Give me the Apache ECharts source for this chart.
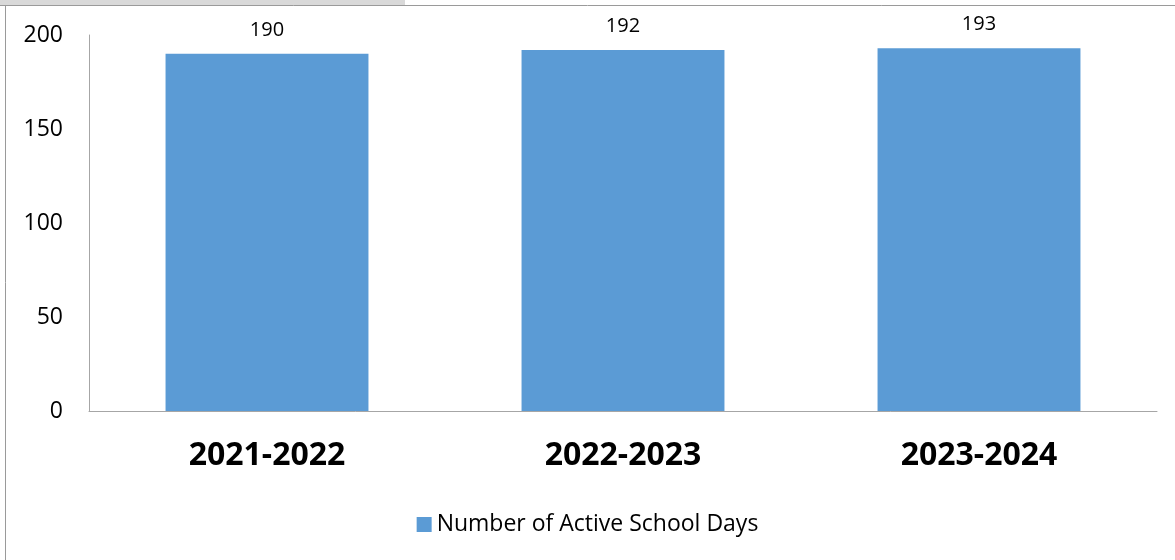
<!DOCTYPE html>
<html><head><meta charset="utf-8">
<script src="https://cdn.jsdelivr.net/npm/echarts@6/dist/echarts.min.js"></script>
<style>html,body{margin:0;padding:0;background:#fff}#c{width:1175px;height:560px}</style>
</head><body><div id="c"></div>
<script>
const categories = ['2021-2022', '2022-2023', '2023-2024'];
const activeDays = [190, 192, 193];
const seriesName = 'Number of Active School Days';
const yTicks = [0, 50, 100, 150, 200];

const chart = echarts.init(document.getElementById('c'), null, {renderer: 'canvas'});
const font = '"Open Sans", "Noto Sans", "Liberation Sans", sans-serif';
chart.setOption({
  animation: false,
  backgroundColor: '#ffffff',
  graphic: [
    {type: 'rect', shape: {x: 0, y: 0, width: 405, height: 5}, style: {fill: '#d9d9d9'}, silent: true},
    {type: 'line', shape: {x1: 0, y1: 5.5, x2: 1175, y2: 5.5}, style: {stroke: '#9a9a9a', lineWidth: 1}},
    {type: 'line', shape: {x1: 5.5, y1: 5, x2: 5.5, y2: 560}, style: {stroke: '#9a9a9a', lineWidth: 1}}
  ],
  grid: {left: 89, right: 18, top: 35, bottom: 149, containLabel: false},
  legend: {
    data: [seriesName], top: 508, left: 'center', itemWidth: 15, itemHeight: 15, itemGap: 6, icon: 'rect',
    textStyle: {fontFamily: font, fontSize: 23, color: '#000'}
  },
  xAxis: {
    type: 'category', data: categories,
    axisLine: {lineStyle: {color: '#a6a6a6'}}, axisTick: {show: false},
    axisLabel: {fontFamily: font, fontSize: 32, fontWeight: 'bold', color: '#000', margin: 29}
  },
  yAxis: {
    type: 'value', min: yTicks[0], max: yTicks[yTicks.length - 1], interval: 50,
    axisLine: {show: true, lineStyle: {color: '#a6a6a6'}}, axisTick: {show: false},
    splitLine: {show: false},
    axisLabel: {fontFamily: font, fontSize: 23, color: '#000', margin: 26}
  },
  series: [{
    name: seriesName, type: 'bar', data: activeDays, barWidth: '57%',
    itemStyle: {color: '#5b9bd5'},
    label: {show: true, position: 'top', distance: 14, fontFamily: font, fontSize: 20, color: '#000'}
  }]
});
</script></body></html>
